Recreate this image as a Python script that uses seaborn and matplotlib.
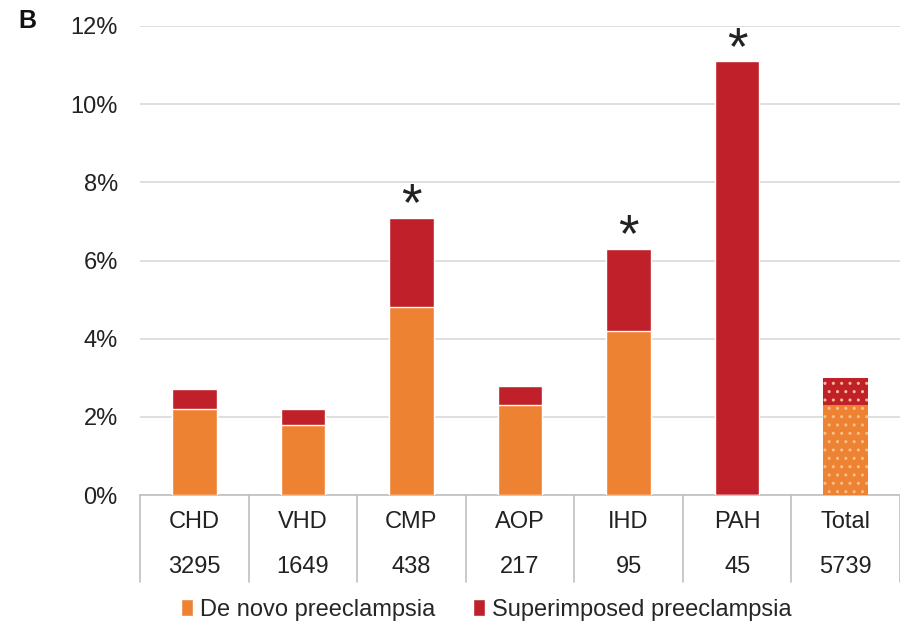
import matplotlib
matplotlib.use("Agg")
import matplotlib.pyplot as plt
import matplotlib.transforms as mtransforms
from matplotlib.patches import Patch
import seaborn as sns
import pandas as pd

# Preeclampsia rates by cardiac disease group (%)
categories = ["CHD", "VHD", "CMP", "AOP", "IHD", "PAH", "Total"]
patients = ["3295", "1649", "438", "217", "95", "45", "5739"]
de_novo = [2.2, 1.8, 4.8, 2.3, 4.2, 0.0, 2.3]
superimposed = [0.5, 0.4, 2.3, 0.5, 2.1, 11.1, 0.7]
significant = [False, False, True, False, True, True, False]
y_ticks = [0, 2, 4, 6, 8, 10, 12]

ORANGE = "#EE8233"
RED = "#C0202A"
TEXT = "#222222"
FS = 17

sns.set_theme(style="white")
plt.rcParams["font.family"] = ["Liberation Sans", "DejaVu Sans"]

df = pd.DataFrame({
    "category": categories,
    "de_novo": de_novo,
    "total": [a + b for a, b in zip(de_novo, superimposed)],
})

fig = plt.figure(figsize=(9, 6.27), dpi=100)
ax = fig.add_axes([140 / 900, 1 - 495 / 627, 760 / 900, 469 / 627])

# Stacked bars: full height in red, de novo part in orange on top of it
sns.barplot(data=df, x="category", y="total", color=RED, width=0.41,
            saturation=1, ax=ax, zorder=3)
sns.barplot(data=df, x="category", y="de_novo", color=ORANGE, width=0.41,
            saturation=1, ax=ax, zorder=3)

# Dotted pattern on the overall bar
n = len(categories)
for patch in (ax.patches[n - 1], ax.patches[2 * n - 1]):
    patch.set_hatch("..")
    patch.set_edgecolor("#F7C08A")
    patch.set_linewidth(0)

ax.set_ylim(0, 12)
ax.set_xlim(-0.5, n - 0.5)
ax.set_yticks(y_ticks)
ax.set_yticklabels([f"{t}%" for t in y_ticks], fontsize=FS, color=TEXT)
ax.tick_params(axis="y", length=0, pad=16)
ax.set_xticks([])
ax.set_xlabel("")
ax.set_ylabel("")
ax.yaxis.grid(True, color="#D9D9D9", linewidth=1.2, zorder=0)
for s in ["left", "right", "top"]:
    ax.spines[s].set_visible(False)
ax.spines["bottom"].set_color("#BFBFBF")
ax.spines["bottom"].set_linewidth(1.2)

# Significance markers
for i, flag in enumerate(significant):
    if flag:
        ax.annotate("*", xy=(i, df["total"][i]), xytext=(0, -2),
                    textcoords="offset points", ha="center", va="baseline",
                    fontsize=38, color=TEXT)

# Table of group names and patient counts beneath the axis
trans = mtransforms.blended_transform_factory(ax.transData, ax.transAxes)
for i, (cat, cnt) in enumerate(zip(categories, patients)):
    ax.text(i, -0.058, cat, transform=trans, ha="center", va="center",
            fontsize=FS, color=TEXT)
    ax.text(i, -0.153, cnt, transform=trans, ha="center", va="center",
            fontsize=FS, color=TEXT)
for b in range(n + 1):
    ax.plot([b - 0.5, b - 0.5], [0, -0.186], transform=trans, color="#BFBFBF",
            linewidth=1.2, clip_on=False)

handles = [Patch(facecolor=ORANGE, label="De novo preeclampsia"),
           Patch(facecolor=RED, label="Superimposed preeclampsia")]
fig.legend(handles=handles, loc="center", bbox_to_anchor=(0.540, 1 - 610 / 627),
           ncol=2, frameon=False, fontsize=FS, handlelength=0.5,
           handleheight=0.75, handletextpad=0.3, columnspacing=1.6)

fig.text(18 / 900, 1 - 21 / 627, "B", fontsize=18, fontweight="bold",
         ha="left", va="center", color="#111111")

fig.savefig("out.png", dpi=100, facecolor="white")
